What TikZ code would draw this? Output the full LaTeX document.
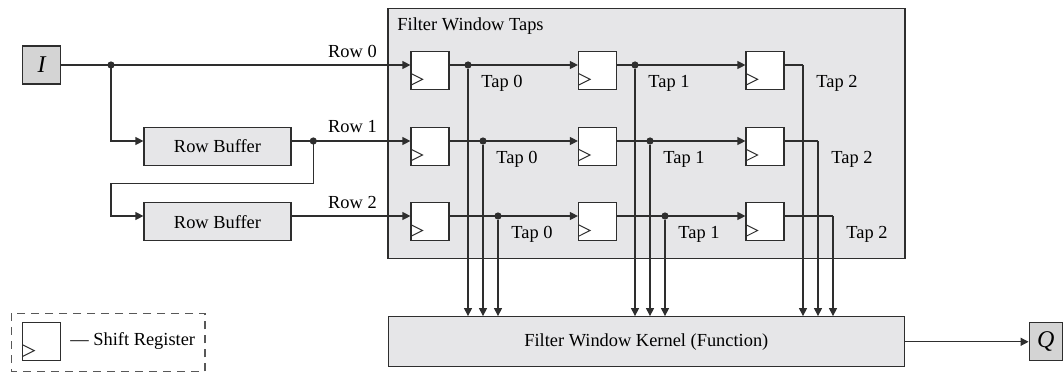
\documentclass[tikz,border=0pt]{standalone}
\usepackage{fontspec}
\setmainfont{Liberation Serif}
\usetikzlibrary{arrows.meta,calc}
\definecolor{boxgray}{HTML}{E6E6E8}
\definecolor{iogray}{HTML}{D4D4D4}
\definecolor{ink}{HTML}{2E2E2E}
\tikzset{
  every node/.style={font=\fontsize{9.2}{11}\selectfont},
  wire/.style={draw=ink, line width=0.6pt},
  arr/.style={wire, -{Triangle[length=4pt,width=4pt]}},
  block/.style={draw=ink, line width=0.6pt, fill=boxgray, rectangle, inner sep=0pt},
  iobox/.style={draw=ink, line width=0.6pt, fill=iogray, rectangle, inner sep=0pt,
    minimum width=19pt, minimum height=19pt, font=\fontsize{12}{14}\selectfont\itshape},
  % register box with a clock wedge at its lower left
  shiftreg/.style={draw=ink, line width=0.6pt, fill=white, rectangle, inner sep=0pt,
    minimum width=19pt, minimum height=19pt,
    path picture={
      \draw[ink, line width=0.5pt]
        ($(path picture bounding box.south west)+(0pt,8pt)$)
        -- ($(path picture bounding box.south west)+(5.8pt,5.1pt)$)
        -- ($(path picture bounding box.south west)+(0pt,2.2pt)$);}},
  dot/.style={circle, fill=ink, inner sep=0pt, minimum size=3.6pt},
  lbl/.style={inner sep=0pt},
}
\begin{document}
\begin{tikzpicture}[x=0.5pt, y=-0.5pt]
\useasboundingbox (0,0) rectangle (1063,374);

% containers
\node[block, minimum width=258.5pt, minimum height=125pt] (taps) at (646.5,133.5) {};
\node[lbl, anchor=west] (tapstitle) at (397,26) {Filter Window Taps};
\node[block, minimum width=258pt, minimum height=25pt] (kernel) at (646.3,341.7) {Filter Window Kernel (Function)};

% input / output
\node[iobox] (in) at (41.7,65) {I};
\node[iobox, minimum width=16.5pt] (out) at (1045.7,341.8) {Q};

% row buffers
\node[block, minimum width=73.5pt, minimum height=19pt] (rb1) at (217.5,146.2) {Row Buffer};
\node[block, minimum width=73.5pt, minimum height=19pt] (rb2) at (217.5,221.7) {Row Buffer};

% shift registers (row r, column c)
\foreach \r/\yc in {0/70.5,1/146.2,2/221.7}{
  \foreach \c/\xc in {0/430,1/597.5,2/765}{
    \node[shiftreg] (r\r\c) at (\xc,\yc) {};
  }
}

% row wiring coordinates
\coordinate (row0) at (0,65);
\coordinate (row1) at (0,141);
\coordinate (row2) at (0,216);

% junctions
\node[dot] (j0) at (111,65) {};
\node[dot] (j1) at (313.3,141) {};
\foreach \r/\y/\xa/\xb in {0/65/468/635, 1/141/483/650, 2/216/498/665}{
  \node[dot] (d\r0) at (\xa,\y) {};
  \node[dot] (d\r1) at (\xb,\y) {};
}
\coordinate (d02) at (803,65);
\coordinate (d12) at (818,141);
\coordinate (d22) at (833,216);

% input rows
\draw[arr] (in.east) -- (r00.west |- in.east);
\draw[arr] (j0.center) |- (rb1.west |- row1);
\draw[arr] (rb1.east |- row1) -- (r10.west |- row1);
\draw[arr] (j1.center) -- (313.3,183.3) -| (111,216) -- (rb2.west |- row2);
\draw[arr] (rb2.east |- row2) -- (r20.west |- row2);

% register chains and taps
\foreach \r in {0,1,2}{
  \draw[arr] (r\r0.east |- row\r) -- (r\r1.west |- row\r);
  \draw[arr] (r\r1.east |- row\r) -- (r\r2.west |- row\r);
  \draw[wire] (r\r2.east |- row\r) -- (d\r2);
  \foreach \c in {0,1,2}{
    \draw[arr] (d\r\c) -- (d\r\c |- kernel.north);
  }
}

% row labels
\node[lbl] (lrow0) at (352.5,51.7) {Row 0};
\node[lbl] (lrow1) at (352.5,126.7) {Row 1};
\node[lbl] (lrow2) at (352.5,202) {Row 2};

% tap labels, below and right of each tap point
\foreach \r in {0,1,2}{
  \foreach \c in {0,1,2}{
    \node[lbl, anchor=west] (t\r\c) at ($(d\r\c)+(13,18)$) {Tap \c};
  }
}

% output
\draw[arr] (kernel.east |- out.west) -- (out.west);

% legend
\node[shiftreg] (legreg) at (41.7,341.8) {};
\node[lbl, anchor=west] (legtext) at (70,341) {--- Shift Register};
\draw[draw=ink!80, line width=0.6pt, dash pattern=on 4pt off 3pt] (11.7,313.3) rectangle (205,371.7);
\end{tikzpicture}
\end{document}
